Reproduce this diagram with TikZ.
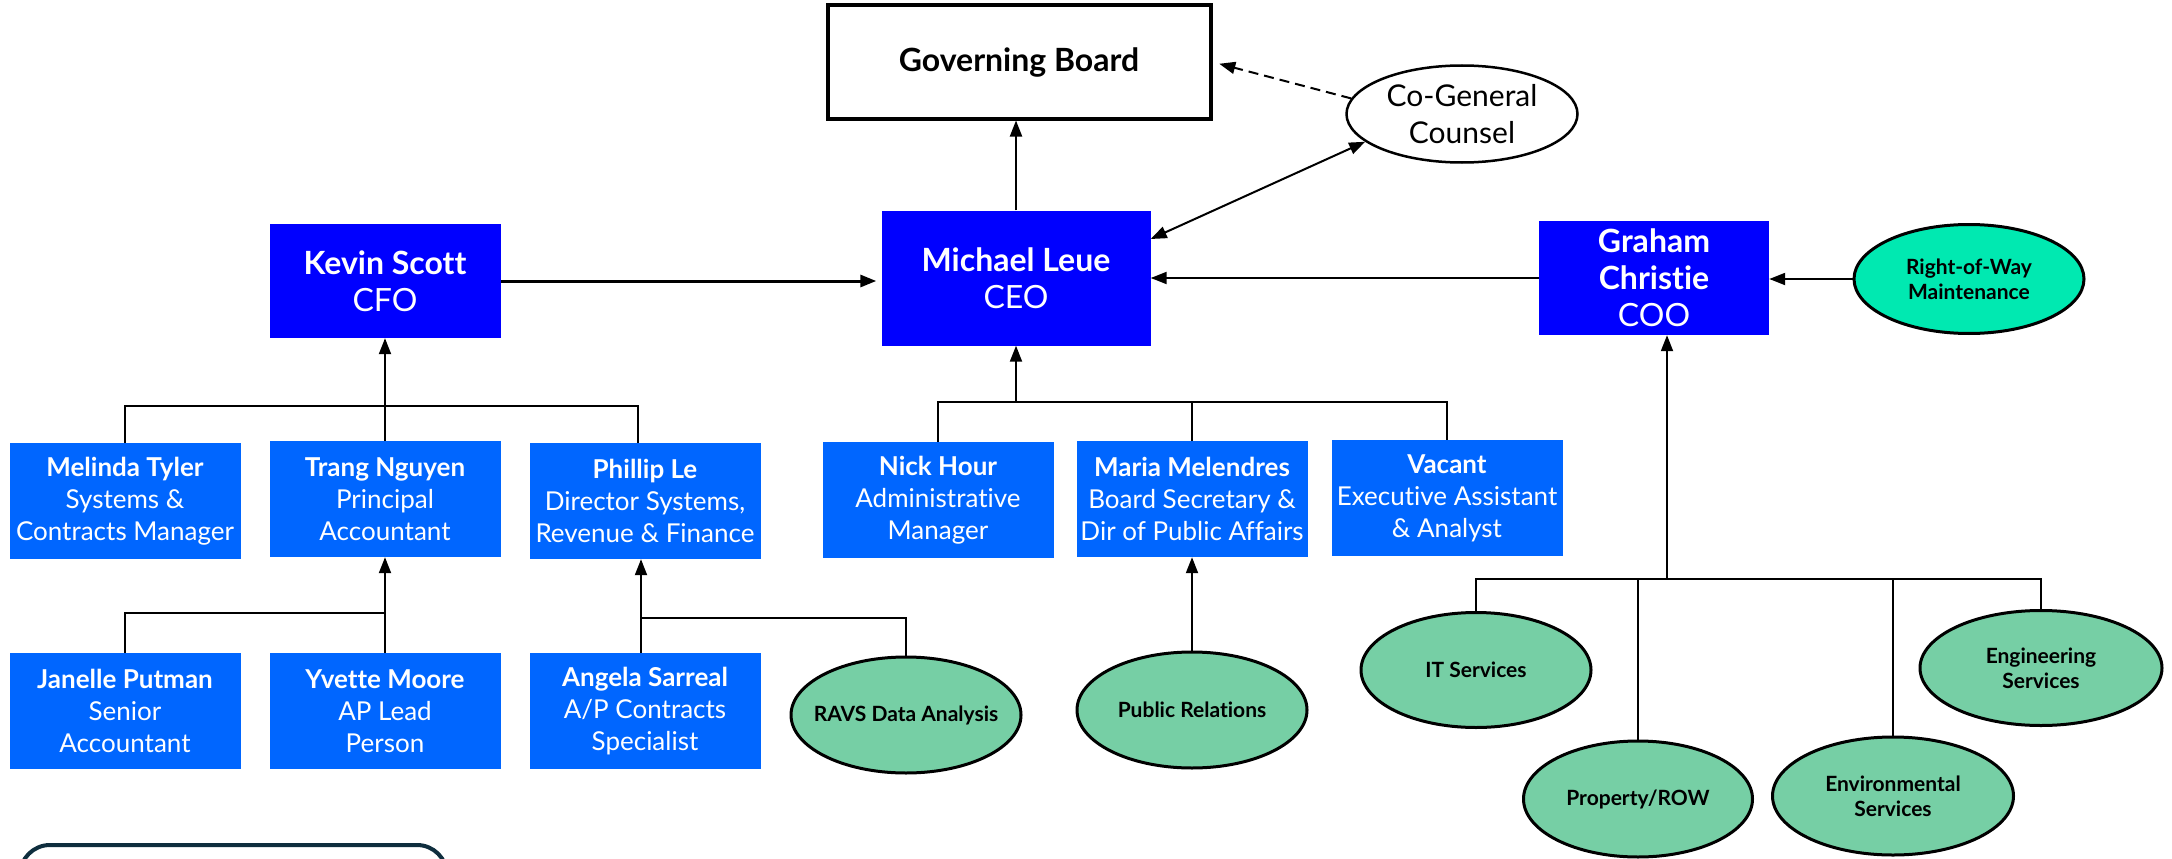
\documentclass[tikz,border=0pt]{standalone}
\usepackage{fontspec}
\setmainfont{Lato}[Ligatures=NoCommon]
\usetikzlibrary{shapes.geometric,arrows.meta}
\definecolor{chiefblue}{HTML}{0000FF}
\definecolor{staffblue}{HTML}{0066FF}
\definecolor{rowgreen}{HTML}{00E9B1}
\definecolor{unitgreen}{HTML}{76CFA5}
\definecolor{legendnavy}{HTML}{0F2E3E}
\tikzset{
  chief/.style={rectangle,fill=chiefblue,text=white,align=center,inner sep=1pt,
    font=\fontsize{32}{37}\selectfont},
  staff/.style={rectangle,fill=staffblue,text=white,align=center,inner sep=1pt,
    minimum width=231pt,minimum height=116pt,font=\fontsize{26}{32}\selectfont},
  unit/.style={ellipse,draw=black,line width=3pt,fill=unitgreen,inner sep=0pt,
    minimum width=230pt,minimum height=116pt},
  tag/.style={align=center,inner sep=0pt,font=\bfseries\fontsize{21}{25}\selectfont},
  link/.style={draw=black,line width=2pt},
  up/.style={link,-{Triangle[length=16pt,width=12pt]}},
}
\begin{document}
\begin{tikzpicture}[x=1pt,y=-1pt]
\useasboundingbox (0,0) rectangle (2172,859);

\node[draw=black,line width=4pt,minimum width=383pt,minimum height=113pt,
  font=\bfseries\fontsize{32}{37}\selectfont] (board) at (1019,62) {Governing Board};
\node[ellipse,draw=black,line width=2.5pt,fill=white,minimum width=231pt,minimum height=97pt,
  label={[tag,font=\fontsize{30}{37}\selectfont]center:Co-General\\Counsel}] (counsel) at (1462,114) {};

\node[chief,minimum width=269pt,minimum height=135pt] (michael) at (1016,278) {\textbf{Michael Leue}\\CEO};
\node[chief,minimum width=231pt,minimum height=114pt] (kevin) at (385,281) {\textbf{Kevin Scott}\\CFO};
\node[chief,minimum width=230pt,minimum height=114pt] (graham) at (1654,278) {\textbf{Graham}\\\textbf{Christie}\\COO};
\node[unit,fill=rowgreen,minimum height=109pt,
  label={[tag]center:Right-of-Way\\Maintenance}] (row) at (1969,279) {};

\node[staff] (melinda) at (125,501) {\textbf{Melinda Tyler}\\Systems \&\\Contracts Manager};
\node[staff] (trang) at (385,499) {\textbf{Trang Nguyen}\\Principal\\Accountant};
\node[staff] (phillip) at (645,501) {\textbf{Phillip Le}\\Director Systems,\\Revenue \& Finance};
\node[staff] (nick) at (938,500) {\textbf{Nick Hour}\\Administrative\\Manager};
\node[staff] (maria) at (1192,499) {\textbf{Maria Melendres}\\Board Secretary \&\\Dir of Public Affairs};
\node[staff] (vacant) at (1447,498) {\textbf{Vacant}\\Executive Assistant\\\& Analyst};

\node[staff] (janelle) at (125,711) {\textbf{Janelle Putman}\\Senior\\Accountant};
\node[staff] (yvette) at (385,711) {\textbf{Yvette Moore}\\AP Lead\\Person};
\node[staff] (angela) at (645,711) {\textbf{Angela Sarreal}\\A/P Contracts\\Specialist};
\node[unit,label={[tag]center:RAVS Data Analysis}] (ravs) at (906,715) {};
\node[unit,label={[tag]center:Public Relations}] (pr) at (1192,710) {};

\node[unit,minimum height=115pt,label={[tag]center:IT Services}] (it) at (1476,670) {};
\node[unit,minimum width=229pt,label={[tag]center:Property/ROW}] (prop) at (1638,799) {};
\node[unit,minimum width=241pt,minimum height=118pt,label={[tag]center:Environmental\\Services}] (env) at (1893,796) {};
\node[unit,minimum width=242pt,minimum height=115pt,label={[tag]center:Engineering\\Services}] (eng) at (2041,668) {};

\coordinate (kbar) at (385,406);
\coordinate (mbar) at (1016,402);
\coordinate (tbar) at (385,613);
\coordinate (pbar) at (641,618);
\coordinate (gbar) at (1667,579);

\draw[up] (michael.north) -- (michael.north |- board.south);
\draw[up,dashed,dash pattern=on 10pt off 6pt,shorten >=7pt] (counsel.172) -- (board.east);
\draw[link,{Triangle[length=16pt,width=12pt]}-{Triangle[length=16pt,width=12pt]}]
  ([yshift=39pt]michael.east) -- (counsel.196);
\draw[up,line width=3pt,shorten >=5pt] (kevin) -- (kevin -| michael.west);
\draw[up] (graham) -- (graham -| michael.east);
\draw[up] (row) -- (row -| graham.east);

\draw[link] (melinda.north) |- (kbar) -| ([xshift=-7pt]phillip.north);
\draw[up] (trang.north) -- (kevin.south);
\draw[link] (nick.north) |- (mbar) -| (vacant.north);
\draw[link] (maria.north) -- (maria.north |- mbar);
\draw[up] (mbar) -- (michael.south);

\draw[link] (janelle.north) |- (tbar);
\draw[up] (yvette.north) -- (trang.south);
\draw[link] (ravs.north) |- (pbar);
\draw[up] (pbar |- angela.north) -- (pbar |- phillip.south);
\draw[up] (pr.north) -- (maria.south);

\draw[up] (gbar) -- (gbar |- graham.south);
\draw[link] (it.north) |- (gbar) -| (eng.north);
\draw[link] (prop.north) -- (prop.north |- gbar);
\draw[link] (env.north) -- (env.north |- gbar);

\begin{scope}
\clip (0,0) rectangle (2172,859);
\draw[legendnavy,line width=4pt,rounded corners=30pt] (20,845) rectangle (447,920);
\end{scope}
\end{tikzpicture}
\end{document}
